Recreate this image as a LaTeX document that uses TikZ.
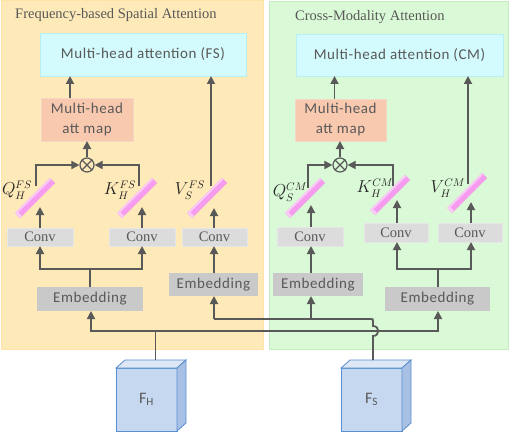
\documentclass[tikz,border=0pt]{standalone}
\usepackage{fontspec}
\usetikzlibrary{arrows.meta}
\newfontfamily\sansf[LetterSpace=4]{Carlito}
\newfontfamily\serff{Liberation Serif}
\definecolor{txt}{HTML}{595959}
\definecolor{lin}{HTML}{595959}
\definecolor{orfill}{HTML}{FEE9B8}
\definecolor{ordraw}{HTML}{FDE3A6}
\definecolor{grfill}{HTML}{DAF9D6}
\definecolor{grdraw}{HTML}{C6EDC1}
\definecolor{cyfill}{HTML}{D3FAFC}
\definecolor{cydraw}{HTML}{B9EEF3}
\definecolor{mapfill}{HTML}{F8C9AE}
\definecolor{mapdraw}{HTML}{F4D7C4}
\definecolor{convfill}{HTML}{DCDCDC}
\definecolor{convdraw}{HTML}{E6E6E6}
\definecolor{embfill}{HTML}{C9C9C9}
\definecolor{pinkA}{HTML}{F59CEE}
\definecolor{pinkB}{HTML}{FBCBF7}
\definecolor{cubefront}{HTML}{C6D8F0}
\definecolor{cubetop}{HTML}{DDE7F5}
\definecolor{cuberight}{HTML}{A7C0E4}
\definecolor{cubedraw}{HTML}{5B8FCF}
\newcommand\pinkbar[2]{%
  \begin{scope}[shift={(#1,#2)}]
    \fill[pinkA] (0,-5) -- (5,0) -- (40,-35) -- (35,-40) -- cycle;
    \draw[pinkB,line width=1.8pt] (0.8,-4.4) -- (35.6,-39.2);
    \fill[pinkB] (0,-5) -- (5,0) -- (7,-2) -- (2,-7) -- cycle;
  \end{scope}}
\newcommand\mycube[1]{%
  \filldraw[fill=cubetop,draw=cubedraw,line width=0.8pt] (#1.north west) -- ([shift={(9,-8)}]#1.north west) -- ([shift={(9,-8)}]#1.north east) -- (#1.north east) -- cycle;
  \filldraw[fill=cuberight,draw=cubedraw,line width=0.8pt] (#1.north east) -- ([shift={(9,-8)}]#1.north east) -- ([shift={(9,-8)}]#1.south east) -- (#1.south east) -- cycle;}
\begin{document}
\begin{tikzpicture}[x=1pt,y=-1pt,
  line/.style={draw=lin,line width=1.8pt},
  arr/.style={line,-{Triangle[length=8pt,width=8pt]}},
  blk/.style={anchor=north west,inner sep=0pt,outer sep=0pt,text=txt,align=center,line width=0.8pt},
  cyanbox/.style={blk,fill=cyfill,draw=cydraw,font=\sansf\fontsize{15}{18}\selectfont},
  mapbox/.style={blk,fill=mapfill,draw=mapdraw,font=\sansf\fontsize{15}{20}\selectfont},
  convbox/.style={blk,fill=convfill,draw=convdraw,font=\serff\fontsize{14.5}{16}\selectfont},
  embbox/.style={blk,fill=embfill,font=\sansf\fontsize{15}{18}\selectfont},
  title/.style={anchor=west,inner sep=0pt,text=txt,font=\serff\fontsize{14.5}{16}\selectfont},
  lab/.style={inner sep=0pt,text=black!85,font=\fontsize{16}{16}\selectfont},
  cubebox/.style={anchor=north west,inner sep=0pt,outer sep=0pt,fill=cubefront,draw=cubedraw,line width=0.8pt,minimum width=61pt,minimum height=63pt,text=txt,font=\sansf\fontsize{16}{18}\selectfont},
  ox/.style={circle,draw=lin,line width=1.2pt,minimum size=14pt,inner sep=0pt}]
\useasboundingbox (0,0) rectangle (511,433);
% panels
\filldraw[fill=orfill,draw=ordraw,line width=1pt] (1,1) rectangle (263,349);
\filldraw[fill=grfill,draw=grdraw,line width=1pt] (269,2) rectangle (508,349);
\node[title] (tFS) at (15,15) {Frequency-based Spatial Attention};
\node[title] (tCM) at (295,17) {Cross-Modality Attention};
% top boxes
\node[cyanbox,minimum width=206pt,minimum height=43pt] (cyFS) at (40,33) {Multi-head attention (FS)};
\node[cyanbox,minimum width=207pt,minimum height=42pt] (cyCM) at (296,34) {Multi-head attention (CM)};
\node[mapbox,minimum width=92pt,minimum height=43pt] (mapFS) at (41,98) {Multi-head\\att map};
\node[mapbox,minimum width=91pt,minimum height=42pt] (mapCM) at (295,99) {Multi-head\\att map};
% conv
\node[convbox,minimum width=66pt,minimum height=18pt] (cFSQ) at (7,228) {Conv};
\node[convbox,minimum width=66pt,minimum height=18pt] (cFSK) at (109,228) {Conv};
\node[convbox,minimum width=65pt,minimum height=18pt] (cFSV) at (182,228) {Conv};
\node[convbox,minimum width=66pt,minimum height=19pt] (cCMQ) at (277,227) {Conv};
\node[convbox,minimum width=64pt,minimum height=19pt] (cCMK) at (364,223) {Conv};
\node[convbox,minimum width=64pt,minimum height=19pt] (cCMV) at (438,223) {Conv};
% embedding
\node[embbox,minimum width=106pt,minimum height=24pt] (eFSL) at (37,287) {Embedding};
\node[embbox,minimum width=89pt,minimum height=23pt] (eFSV) at (169,273) {Embedding};
\node[embbox,minimum width=90pt,minimum height=23pt] (eCMQ) at (273,273) {Embedding};
\node[embbox,minimum width=105pt,minimum height=24pt] (eCMR) at (385,287) {Embedding};
% cubes
\node[cubebox] (fh) at (116,368) {F\textsubscript{H}};
\node[cubebox] (fs) at (341,368) {F\textsubscript{S}};
\mycube{fh}
\mycube{fs}
% otimes
\node[ox] (oxFS) at (87,165) {};
\node[ox] (oxCM) at (340,165) {};
\draw[lin,line width=1.2pt] (oxFS.north west) -- (oxFS.south east) (oxFS.north east) -- (oxFS.south west);
\draw[lin,line width=1.2pt] (oxCM.north west) -- (oxCM.south east) (oxCM.north east) -- (oxCM.south west);
% coordinates at the bars
\coordinate (qFS) at (36,186);
\coordinate (kFS) at (139,186);
\coordinate (vFS) at (211,186);
\coordinate (qCM) at (308,188);
\coordinate (kCM) at (393,186);
\coordinate (vCM) at (468,184);
\coordinate (qFSin) at (40,207);
\coordinate (kFSin) at (142,207);
\coordinate (vFSin) at (214,208);
\coordinate (qCMin) at (311,205);
\coordinate (kCMin) at (397,200);
\coordinate (vCMin) at (471,202);
% upper connectors
\draw[arr] ([xshift=-17pt]mapFS.north) -- ([xshift=-17pt]mapFS.north |- cyFS.south);
\draw[arr] ([xshift=-6pt]mapCM.north) -- ([xshift=-6pt]mapCM.north |- cyCM.south);
\draw[arr] (oxFS.north) -- (oxFS.north |- mapFS.south);
\draw[arr] (oxCM.north) -- (oxCM.north |- mapCM.south);
\draw[arr] (qFS) |- (oxFS.west);
\draw[arr] (kFS) |- (oxFS.east);
\draw[arr] (qCM) |- (oxCM.west);
\draw[arr] (kCM) |- (oxCM.east);
\draw[arr] (vFS) -- (vFS |- cyFS.south);
\draw[arr] (vCM) -- (vCM |- cyCM.south);
% conv to bars
\draw[arr] (qFSin |- cFSQ.north) -- (qFSin);
\draw[arr] (kFSin |- cFSK.north) -- (kFSin);
\draw[arr] (vFSin |- cFSV.north) -- (vFSin);
\draw[arr] (qCMin |- cCMQ.north) -- (qCMin);
\draw[arr] (kCMin |- cCMK.north) -- (kCMin);
\draw[arr] (vCMin |- cCMV.north) -- (vCMin);
% bars
\pinkbar{15}{218}
\pinkbar{117}{218}
\pinkbar{187}{218}
\pinkbar{285}{218}
\pinkbar{370}{215}
\pinkbar{447}{213}
% labels
\node[lab] (lQFS) at (17,190) {$Q_H^{FS}$};
\node[lab] (lKFS) at (120,190) {$K_H^{FS}$};
\node[lab] (lVFS) at (190,190) {$V_S^{FS}$};
\node[lab] (lQCM) at (290,192) {$Q_S^{CM}$};
\node[lab] (lKCM) at (375,188) {$K_H^{CM}$};
\node[lab] (lVCM) at (448,188) {$V_H^{CM}$};
% embedding to conv trees
\coordinate (jFS) at (90,269);
\coordinate (jCM) at (438,269);
\draw[line] (eFSL.north -| jFS) -- (jFS);
\draw[arr] (jFS) -| (cFSQ.south);
\draw[arr] (jFS) -| (cFSK.south);
\draw[arr] (eFSV.north -| vFSin) -- (vFSin |- cFSV.south);
\draw[arr] (eCMQ.north -| qCMin) -- (qCMin |- cCMQ.south);
\draw[line] (eCMR.north -| jCM) -- (jCM);
\draw[arr] (jCM) -| (kCMin |- cCMK.south);
\draw[arr] (jCM) -| (vCMin |- cCMV.south);
% bottom routing
\coordinate (hJ) at (155.5,331);
\coordinate (sUp) at (373,319);
\coordinate (fsTop) at ([shift={(9,-8)}]fs.north);
\coordinate (fhTop) at ([shift={(9,-8)}]fh.north);
\draw[line] (fhTop) -- (hJ);
\draw[arr] (hJ) -| (eFSL.south -| 91,0);
\draw[arr] (hJ) -| (eCMR.south -| 438,0);
\draw[line] (sUp |- fsTop) -- (373,336) .. controls (380,336) and (380,326) .. (373,326) -- (373,321.5) .. controls (373,319) .. (370.5,319) -- (214,319);
\draw[arr] (214,319) -- (eFSV.south -| 214,0);
\draw[arr] (311,319) -- (eCMQ.south -| 311,0);
\end{tikzpicture}
\end{document}
